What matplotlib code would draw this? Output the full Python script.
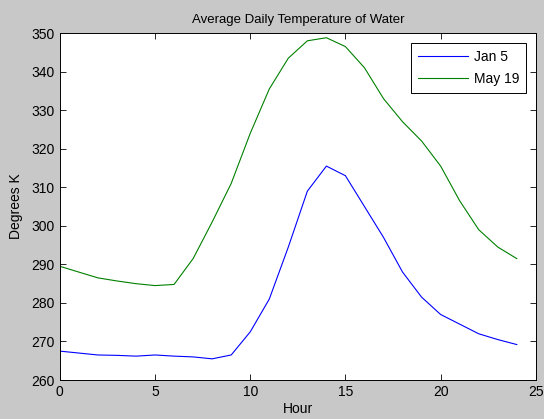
import matplotlib
matplotlib.use("Agg")
import matplotlib.pyplot as plt

hours = list(range(25))
jan5 = [267.5, 267.0, 266.5, 266.4, 266.2, 266.5, 266.2, 266.0, 265.5, 266.5,
        272.5, 281.0, 294.5, 309.0, 315.5, 313.0, 305.0, 297.0, 288.0, 281.5,
        277.0, 274.5, 272.0, 270.5, 269.2]
may19 = [289.5, 288.0, 286.5, 285.7, 285.0, 284.5, 284.8, 291.5, 301.0, 311.0,
         324.0, 335.5, 343.5, 348.0, 348.8, 346.5, 341.0, 333.0, 327.0, 322.0,
         315.5, 306.5, 299.0, 294.5, 291.5]

plt.rcParams['font.family'] = ['Liberation Sans', 'DejaVu Sans']

fig = plt.figure(figsize=(5.44, 4.19), dpi=100, facecolor="#c8c8c8")
ax = fig.add_axes([0.110, 0.093, 0.875, 0.828])

ax.plot(hours, jan5, color="#0000ff", lw=0.8, label="Jan 5")
ax.plot(hours, may19, color="#008000", lw=0.8, label="May 19")

ax.set_xlim(0, 25)
ax.set_ylim(260, 350)
ax.set_xticks([0, 5, 10, 15, 20, 25])
ax.set_yticks(range(260, 351, 10))
ax.tick_params(direction="in", top=True, right=True, labelsize=10, length=4, width=0.6)
for s in ax.spines.values():
    s.set_linewidth(0.7)

ax.set_title("Average Daily Temperature of Water", fontsize=9.5, pad=7)
ax.set_xlabel("Hour", fontsize=10, labelpad=2)
ax.set_ylabel("Degrees K", fontsize=10, labelpad=6)

leg = ax.legend(loc="upper right", fontsize=10, fancybox=False, framealpha=1,
                edgecolor="black", handlelength=3.6, labelspacing=0.6,
                borderaxespad=0.7, borderpad=0.5, handletextpad=0.4)
leg.get_frame().set_linewidth(0.7)

fig.savefig("out.png", dpi=100, facecolor=fig.get_facecolor())
